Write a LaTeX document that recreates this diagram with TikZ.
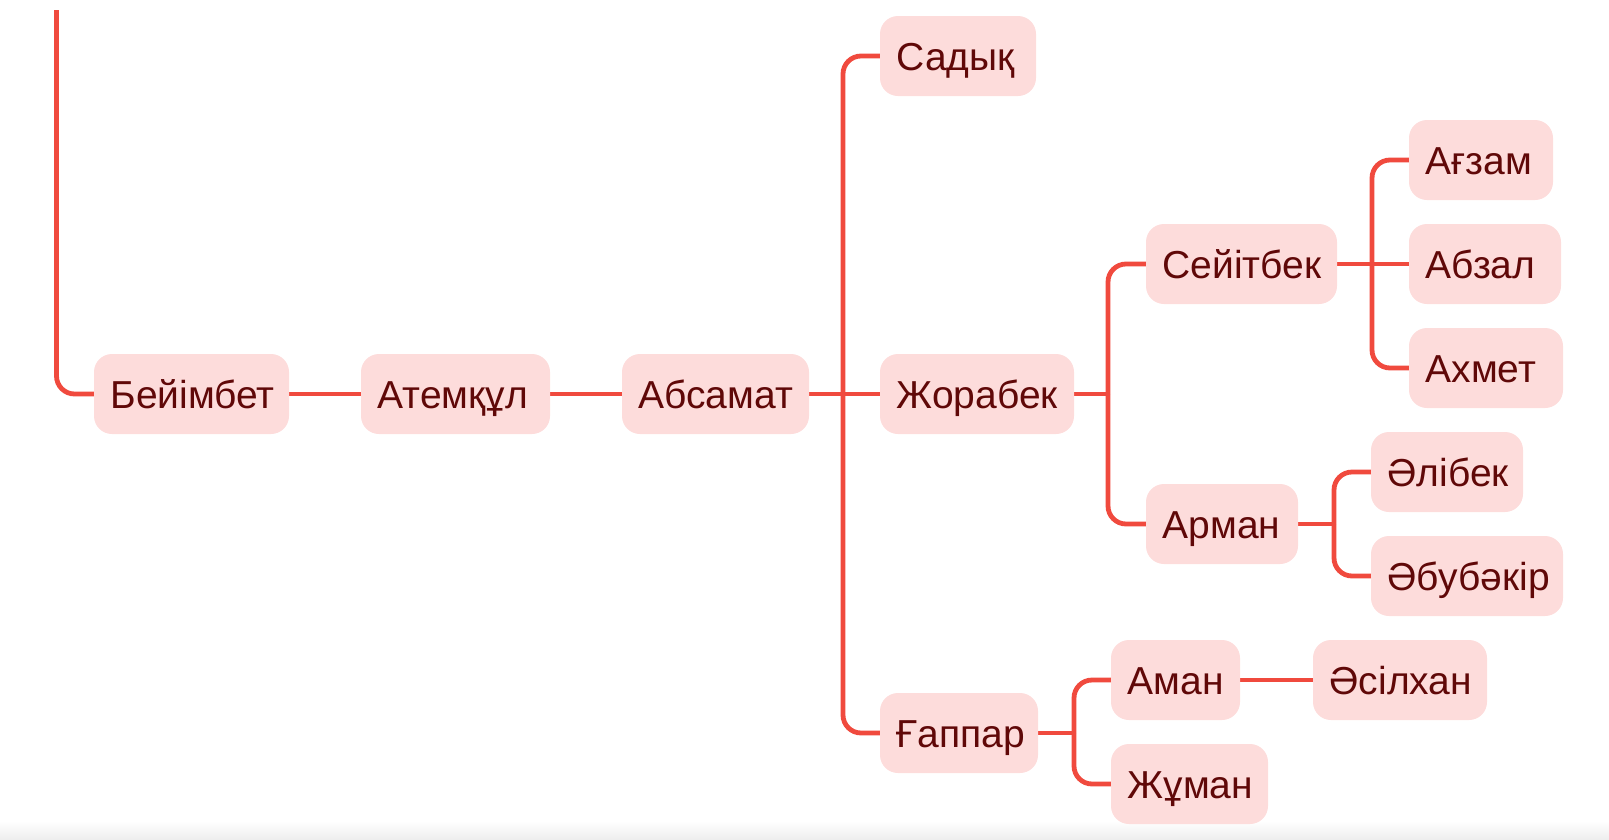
\documentclass[tikz,border=0pt]{standalone}
\usepackage{fontspec}
\setmainfont{Liberation Sans}
\usetikzlibrary{backgrounds}
\definecolor{linec}{RGB}{240,74,62}
\definecolor{boxc}{RGB}{253,220,219}
\definecolor{textc}{RGB}{96,8,8}
\definecolor{bandc}{RGB}{238,238,238}
\tikzset{
  person/.style={fill=boxc, rounded corners=18pt, minimum height=80pt,
    inner xsep=16.5pt, inner ysep=0pt, text width=#1-33pt, align=left,
    text height=28pt, text depth=0pt, text=textc, anchor=center,
    font=\fontsize{39}{47}\selectfont},
  conn/.style={draw=linec, line width=4.8pt},
  elbow/.style={conn, rounded corners=18pt}
}
\begin{document}
\begin{tikzpicture}[x=1pt,y=-1pt]
\useasboundingbox (0,0) rectangle (1609,839);
\shade[top color=white, bottom color=bandc] (0,821) rectangle (1609,839);
% nodes
\node[person=195pt] (beyimbet) at (191.5,394) {Бейімбет};
\node[person=189pt] (atemkul) at (455.5,394) {Атемқұл};
\node[person=187pt] (absamat) at (715.5,394) {Абсамат};
\node[person=156pt] (sadyk) at (958,56) {Садық};
\node[person=194pt] (zhorabek) at (977,394) {Жорабек};
\node[person=158pt] (gappar) at (959,733) {Ғаппар};
\node[person=191pt] (seyitbek) at (1241.5,264) {Сейітбек};
\node[person=152pt] (arman) at (1222,524) {Арман};
\node[person=144pt] (agzam) at (1481,160) {Ағзам};
\node[person=152pt] (abzal) at (1485,264) {Абзал};
\node[person=154pt] (akhmet) at (1486,368) {Ахмет};
\node[person=152pt] (alibek) at (1447,472) {Әлібек};
\node[person=192pt] (abubakir) at (1467,576) {Әбубәкір};
\node[person=129pt] (aman) at (1175.5,680) {Аман};
\node[person=174pt] (asilkhan) at (1400,680) {Әсілхан};
\node[person=157pt] (zhuman) at (1189.5,784) {Жұман};
% junctions
\coordinate (top) at (56.5,10);
\coordinate (jabs) at (843,394);
\coordinate (jzho) at (1108,394);
\coordinate (jsey) at (1372,264);
\coordinate (jarm) at (1334,524);
\coordinate (jgap) at (1074,733);
\begin{scope}[on background layer]
\draw[elbow] (top) |- (beyimbet.west);
\draw[conn] (beyimbet.east) -- (atemkul.west);
\draw[conn] (atemkul.east) -- (absamat.west);
\draw[conn] (absamat.east) -- (jabs) -- (zhorabek.west);
\draw[elbow] (jabs) |- (sadyk.west);
\draw[elbow] (jabs) |- (gappar.west);
\draw[conn] (zhorabek.east) -- (jzho);
\draw[elbow] (jzho) |- (seyitbek.west);
\draw[elbow] (jzho) |- (arman.west);
\draw[conn] (seyitbek.east) -- (jsey) -- (abzal.west);
\draw[elbow] (jsey) |- (agzam.west);
\draw[elbow] (jsey) |- (akhmet.west);
\draw[conn] (arman.east) -- (jarm);
\draw[elbow] (jarm) |- (alibek.west);
\draw[elbow] (jarm) |- (abubakir.west);
\draw[conn] (gappar.east) -- (jgap);
\draw[elbow] (jgap) |- (aman.west);
\draw[elbow] (jgap) |- (zhuman.west);
\draw[conn] (aman.east) -- (asilkhan.west);
\end{scope}
\end{tikzpicture}
\end{document}
